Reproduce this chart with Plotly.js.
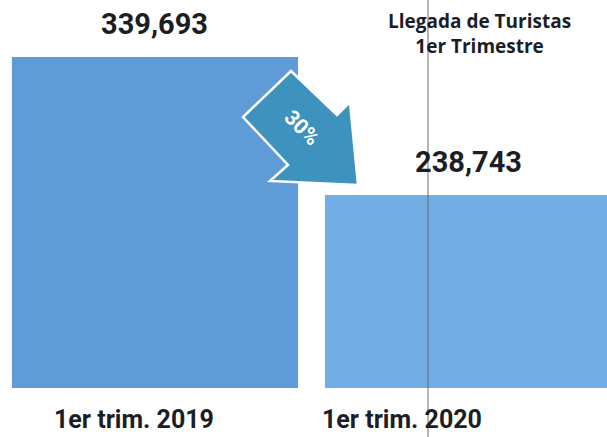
<!DOCTYPE html>
<html><head><meta charset="utf-8">
<script src="https://cdn.plot.ly/plotly-3.0.1.min.js"></script>
<style>html,body{margin:0;padding:0;background:#fff}#c{width:607px;height:437px}</style>
</head><body><div id="c"></div>
<script>
const categories = ['1er trim. 2019', '1er trim. 2020'];
const values = [339693, 238743];
const valueLabels = ['339,693', '238,743'];
const changeLabel = '30%';
const titleLines = ['Llegada de Turistas', '1er Trimestre'];

const W = 607, H = 437, plotH = 388;
const px = (x) => x / W;
const py = (y) => (plotH - y) / plotH;
const idx = categories.map((_, i) => i);

const arrowPts = [[291,71],[337,115],[350,102],[358,185],[270,181],[288,165],[243,117]];
const arrowPath = 'M' + arrowPts.map(p => px(p[0]).toFixed(4) + ',' + py(p[1]).toFixed(4)).join(' L') + ' Z';

const font = 'Roboto, "Open Sans", sans-serif';
const dark = '#1c1e26';

const trace = {
  type: 'bar', x: idx, y: values, width: 0.914,
  marker: {color: ['#5e9bd7', '#72aee5'], line: {width: 0}},
  hoverinfo: 'none'
};

const annotations = [];
idx.forEach(i => {
  annotations.push({x: i, y: values[i], xref: 'x', yref: 'y', text: '<b>' + valueLabels[i] + '</b>',
    showarrow: false, xanchor: 'center', yanchor: 'middle', yshift: 33,
    font: {family: font, size: 29, color: dark}});
  annotations.push({x: i, y: 0, xref: 'x', yref: 'paper', text: '<b>' + categories[i] + '</b>',
    showarrow: false, xanchor: 'center', yanchor: 'middle', yshift: -31, xshift: i === 0 ? -21 : -66,
    font: {family: font, size: 25, color: dark}});
});
annotations.push({x: px(479), y: py(33), xref: 'paper', yref: 'paper',
  text: '<b>' + titleLines.join('<br>') + '</b>', showarrow: false, xanchor: 'center', yanchor: 'middle',
  font: {family: '"Open Sans", Roboto, sans-serif', size: 19, color: dark}});
annotations.push({x: px(302), y: py(128), xref: 'paper', yref: 'paper',
  text: '<b>' + changeLabel + '</b>', showarrow: false, textangle: 45, xanchor: 'center', yanchor: 'middle',
  font: {family: font, size: 21, color: '#ffffff'}});

const layout = {
  width: W, height: H,
  margin: {l: 0, r: 0, t: 0, b: H - plotH, pad: 0},
  paper_bgcolor: '#ffffff', plot_bgcolor: '#ffffff',
  showlegend: false,
  xaxis: {range: [-0.495, 1.444], visible: false, fixedrange: true},
  yaxis: {range: [97554, 381389], visible: false, fixedrange: true},
  shapes: [
    {type: 'path', xref: 'paper', yref: 'paper', path: arrowPath,
     fillcolor: '#3d93bd', line: {color: '#ffffff', width: 2.5}, layer: 'above'},
    {type: 'line', xref: 'paper', yref: 'paper', x0: px(428), x1: px(428), y0: py(0), y1: py(H),
     line: {color: '#6a6a6a', width: 1}, layer: 'above'}
  ],
  annotations: annotations
};

Plotly.newPlot('c', [trace], layout, {staticPlot: true, displayModeBar: false});
</script></body></html>
